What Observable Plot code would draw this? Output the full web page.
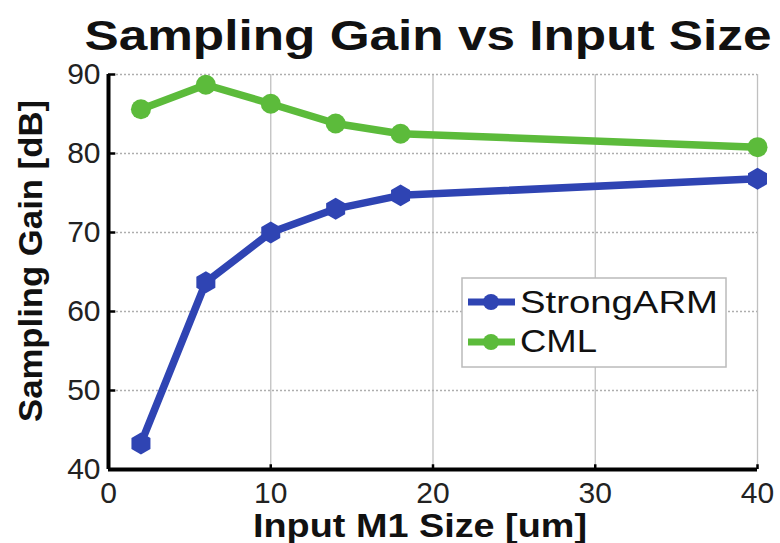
<!DOCTYPE html>
<html>
<head>
<meta charset="utf-8">
<script src="https://cdn.jsdelivr.net/npm/d3@7"></script>
<script src="https://cdn.jsdelivr.net/npm/@observablehq/plot@0.6"></script>
<style>
  html, body { margin: 0; padding: 0; background: #fff; }
  svg { display: block; }
</style>
</head>
<body>
<div id="chart"></div>
<script>
const sizes = [2, 6, 10, 14, 18, 40];
const strongARM = [43.3, 63.7, 70.0, 73.0, 74.7, 76.8];
const cml = [85.6, 88.7, 86.3, 83.8, 82.5, 80.8];
const seriesNames = ["StrongARM", "CML"];
const xTicks = [0, 10, 20, 30, 40];
const yTicks = [40, 50, 60, 70, 80, 90];
const titleText = "Sampling Gain vs Input Size";
const xLabel = "Input M1 Size [um]";
const yLabel = "Sampling Gain [dB]";

const blue = "#2f44b3";
const green = "#5cbb3b";
const font = "'Liberation Sans', Arial, Helvetica, sans-serif";

const saData = sizes.map((x, i) => ({x, y: strongARM[i]}));
const cmlData = sizes.map((x, i) => ({x, y: cml[i]}));

const plot = Plot.plot({
  width: 780,
  height: 543,
  marginLeft: 108,
  marginRight: 23,
  marginTop: 74,
  marginBottom: 74,
  style: {fontFamily: font, background: "#fff", color: "#222"},
  x: {domain: [0, 40]},
  y: {domain: [40, 90]},
  marks: [
    Plot.gridY(yTicks.slice(1), {stroke: "#9a9a9a", strokeOpacity: 0.8, strokeDasharray: "2,2", strokeWidth: 1.3}),
    Plot.gridX(xTicks.slice(1), {stroke: "#b0b0b0", strokeOpacity: 0.8, strokeWidth: 1.3}),
    Plot.axisX({ticks: xTicks, tickSize: 0, tickPadding: 12, fontSize: 30, label: null, fill: "#222"}),
    Plot.axisY({ticks: yTicks, tickSize: 0, tickPadding: 8, fontSize: 30, label: null, fill: "#222"}),
    Plot.ruleY(yTicks.slice(1), {x1: 0, x2: 0.45, stroke: "#000", strokeWidth: 2.5}),
    Plot.ruleX(xTicks.slice(1), {y1: 40, y2: 40.6, stroke: "#000", strokeWidth: 2.5}),
    Plot.ruleY([40], {stroke: "#000", strokeWidth: 4}),
    Plot.ruleX([0], {stroke: "#000", strokeWidth: 4}),
    Plot.line(cmlData, {x: "x", y: "y", stroke: green, strokeWidth: 7.5}),
    Plot.dot(cmlData, {x: "x", y: "y", r: 10, fill: green, symbol: "circle"}),
    Plot.line(saData, {x: "x", y: "y", stroke: blue, strokeWidth: 7.5}),
    Plot.dot(saData, {x: "x", y: "y", r: 9.5, fill: blue, symbol: "hexagon"})
  ]
});

document.getElementById("chart").appendChild(plot);

const svg = d3.select(plot);

function addText(str, x, y, size, weight, len, rotate, anchor) {
  const t = svg.append("text")
    .attr("font-family", font)
    .attr("font-size", size)
    .attr("font-weight", weight)
    .attr("fill", "#111")
    .attr("text-anchor", anchor || "middle")
    .attr("textLength", len)
    .attr("lengthAdjust", "spacingAndGlyphs")
    .text(str);
  if (rotate) t.attr("transform", `translate(${x},${y}) rotate(${rotate})`);
  else t.attr("x", x).attr("y", y);
  return t;
}

addText(titleText, 428, 50, 43, "bold", 687);
addText(xLabel, 420, 537, 33, "bold", 334);
addText(yLabel, 42, 261, 33, "bold", 322, -90);

// legend
const lg = svg.append("g");
lg.append("rect").attr("x", 462).attr("y", 278).attr("width", 264).attr("height", 89)
  .attr("fill", "#fff").attr("stroke", "#bbb").attr("stroke-width", 1.5);
const entries = [
  {name: seriesNames[0], color: blue, y: 302, base: 313, len: 198},
  {name: seriesNames[1], color: green, y: 342, base: 352, len: 77}
];
entries.forEach((e, i) => {
  lg.append("line").attr("x1", 468).attr("x2", 515).attr("y1", e.y).attr("y2", e.y)
    .attr("stroke", e.color).attr("stroke-width", 7);
  lg.append("circle").attr("cx", 491).attr("cy", e.y).attr("r", 8).attr("fill", e.color);
  lg.append("text").attr("x", 520).attr("y", e.base)
    .attr("text-anchor", "start")
    .attr("font-family", font).attr("font-size", 32).attr("font-weight", "normal").attr("fill", "#111")
    .attr("textLength", e.len).attr("lengthAdjust", "spacingAndGlyphs")
    .text(e.name);
});
</script>
</body>
</html>
